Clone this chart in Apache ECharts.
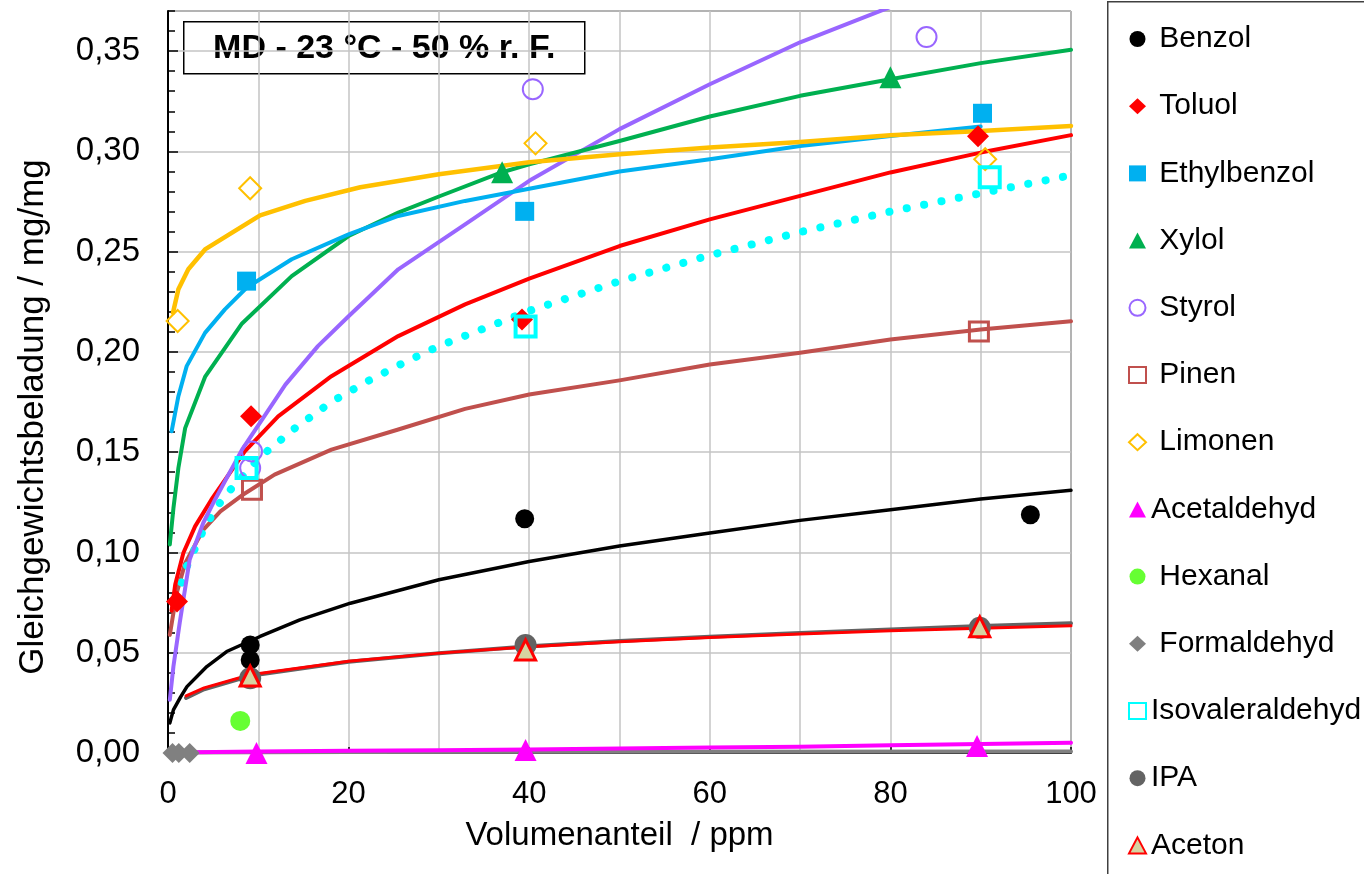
<!DOCTYPE html>
<html>
<head>
<meta charset="utf-8">
<script src="https://cdn.jsdelivr.net/npm/echarts@6/dist/echarts.min.js"></script>
<style>html,body{margin:0;padding:0;background:#fff}#chart{width:1364px;height:874px}</style>
</head>
<body>
<div id="chart"></div>
<script>
// ---------- data (x = Volumenanteil / ppm, y = Gleichgewichtsbeladung / mg/mg) ----------
const names = ['Benzol','Toluol','Ethylbenzol','Xylol','Styrol','Pinen','Limonen','Acetaldehyd','Hexanal','Formaldehyd','Isovaleraldehyd','IPA','Aceton'];
const xTickValues = [0, 20, 40, 60, 80, 100];
const yTickValues = [0, 0.05, 0.10, 0.15, 0.20, 0.25, 0.30, 0.35];

// measured points
const benzolPts = [[9.1,0.0539],[9.1,0.0464],[39.5,0.1168],[95.5,0.1188]];
const toluolPts = [[1.0,0.0755],[9.2,0.1679],[39.2,0.2162],[89.7,0.3076]];
const ethylbenzolPts = [[8.7,0.2353],[39.5,0.2701],[90.2,0.3190]];
const xylolPts = [[37.0,0.2896],[80.0,0.3370]];
const styrolPts = [[9.3,0.1504],[9.1,0.1421],[40.4,0.3310],[84.0,0.3570]];
const pinenPts = [[9.3,0.1313],[89.8,0.2102]];
const limonenPts = [[1.07,0.2154],[9.1,0.2816],[40.7,0.3040],[90.5,0.2961]];
const acetaldehydPts = [[9.8,0.0000],[39.6,0.0015],[89.6,0.0035]];
const hexanalPts = [[8.0,0.0160]];
const formaldehydPts = [[0.5,0.0],[1.2,0.0],[2.4,0.0]];
const isovaleraldehydPts = [[8.7,0.1421],[39.6,0.2127],[91.0,0.2871]];
const ipaPts = [[9.1,0.0373],[39.6,0.0539],[89.9,0.0624]];
const acetonPts = [[9.1,0.0384],[39.6,0.0514],[89.9,0.0629]];

// fitted isotherm curves
const benzolFit = [[0.2,0.015],[0.6,0.0215],[1.4,0.028],[2.1,0.0331],[4.3,0.0431],[6.5,0.0506],[10.2,0.0581],[14.6,0.0664],[20.2,0.0747],[30,0.0864],[40,0.0955],[50,0.1032],[60,0.1097],[70,0.116],[80,0.1213],[90,0.1267],[100,0.131]];
const toluolFit = [[0.4,0.071],[0.8,0.084],[1.7,0.0997],[3,0.113],[4.8,0.1263],[8.5,0.1504],[12.2,0.1679],[18.1,0.1879],[25.5,0.2079],[32.9,0.2237],[40,0.2365],[50,0.2528],[60,0.2661],[70,0.2778],[80,0.2895],[90,0.2994],[100,0.3081]];
const ethylbenzolFit = [[0.4,0.1604],[1.15,0.1779],[2.07,0.1929],[4.1,0.2095],[6.3,0.2212],[8.7,0.232],[13.7,0.2462],[20,0.2586],[25.5,0.2678],[32.9,0.2753],[40,0.2814],[50,0.29],[60,0.2961],[70,0.3027],[80,0.3077],[90,0.3124]];
const xylolFit = [[0.2,0.104],[0.6,0.122],[1.15,0.1421],[1.9,0.162],[4.1,0.1875],[8.2,0.2142],[13.7,0.2378],[20,0.2578],[25.5,0.2695],[30,0.2775],[37,0.2896],[40,0.2935],[50,0.3052],[60,0.3174],[70,0.3277],[80,0.336],[90,0.344],[100,0.3507]];
const styrolFit = [[0.2,0.0265],[0.6,0.0431],[1.3,0.065],[2.4,0.0964],[3.9,0.1147],[5.2,0.1263],[8.2,0.1513],[13,0.1837],[16.6,0.2029],[20,0.2178],[25.5,0.2412],[32.9,0.2636],[40,0.2853],[50,0.3111],[60,0.3335],[70,0.3544],[80,0.372]];
const pinenFit = [[0.2,0.0589],[0.96,0.0797],[1.9,0.0947],[3.9,0.1113],[5.8,0.1205],[8.2,0.1285],[11.8,0.1388],[18.1,0.1513],[25.5,0.1613],[32.9,0.1716],[40,0.1788],[50,0.1858],[60,0.1937],[70,0.1996],[80,0.2062],[90,0.2112],[100,0.2153]];
const limonenFit = [[0.55,0.2195],[1.15,0.2312],[2.25,0.2412],[4.1,0.2511],[7.1,0.2595],[10.2,0.2681],[15.2,0.2753],[21.3,0.2821],[30,0.2886],[40,0.2946],[50,0.2986],[60,0.3019],[70,0.3047],[80,0.3081],[90,0.3102],[100,0.3127]];
const acetaldehydFit = [[2.8,0.0004],[10,0.0008],[20,0.0011],[30,0.0014],[40,0.0018],[50,0.0022],[60,0.0027],[70,0.0031],[80,0.0039],[90,0.0045],[100,0.0051]];
const formaldehydFit = [[0.5,0.0003],[20,0.0005],[50,0.0006],[100,0.0007]];
const isovaleraldehydFit = [[1.5,0.085],[2,0.0922],[4.1,0.113],[6.1,0.1272],[10.2,0.1476],[14.1,0.1621],[18.1,0.1751],[22.1,0.1854],[26.1,0.1946],[30,0.2029],[40,0.2205],[50,0.2353],[60,0.2482],[70,0.2598],[80,0.27],[90,0.2791],[100,0.2881]];
const ipaFit = [[2,0.0275],[4,0.0318],[9.1,0.0385],[20,0.0455],[30,0.0497],[40,0.0532],[50,0.0558],[60,0.058],[70,0.0598],[80,0.0616],[90,0.0633],[100,0.0647]];
const acetonFit = [[2,0.0285],[4,0.0325],[9.1,0.039],[20,0.0458],[30,0.0498],[40,0.053],[50,0.0555],[60,0.0576],[70,0.0593],[80,0.0609],[90,0.0622],[100,0.0634]];

// ---------- styling ----------
const FONT = 'Liberation Sans, Arial, Helvetica, sans-serif';
const spacedNames = ['Benzol','Toluol','Ethylbenzol','Xylol','Styrol','Pinen','Limonen','Hexanal','Formaldehyd'];
const legendIcons = ['circle','diamond','rect','triangle','circle','rect','diamond','triangle','circle','diamond','rect','circle','triangle'];

function fit(name, data, color, width, z, extra) {
  return Object.assign({
    name: name + ' (Anpassung)', type: 'line', data: data, showSymbol: false, symbol: 'none',
    smooth: false, clip: true, silent: true, z: z,
    lineStyle: { color: color, width: width, cap: 'round', join: 'round' }
  }, extra || {});
}
function pts(name, data, symbol, size, itemStyle, z) {
  return { name: name, type: 'scatter', data: data, symbol: symbol, symbolSize: size,
           itemStyle: Object.assign({ opacity: 1 }, itemStyle), z: z || 10, silent: true };
}
const HOLLOW = 'rgba(255,255,255,0)';

const series = [
  fit('Formaldehyd', formaldehydFit, '#808080', 4, 2),
  fit('Acetaldehyd', acetaldehydFit, '#FF00FF', 4, 2),
  fit('IPA', ipaFit, '#636363', 4, 2),
  fit('Aceton', acetonFit, '#FF0000', 3, 2),
  fit('Benzol', benzolFit, '#000000', 3.5, 2),
  fit('Pinen', pinenFit, '#C0504D', 4, 2),
  fit('Isovaleraldehyd', isovaleraldehydFit, '#00FFFF', 8, 2, {
    lineStyle: { color: '#00FFFF', width: 8, type: [0.1, 17.6], cap: 'round', join: 'round' }
  }),
  fit('Toluol', toluolFit, '#FF0000', 4, 2),
  fit('Styrol', styrolFit, '#9966FF', 4, 2),
  fit('Xylol', xylolFit, '#00B050', 4, 2),
  fit('Ethylbenzol', ethylbenzolFit, '#00B0F0', 4, 2),
  fit('Limonen', limonenFit, '#FFC000', 4.5, 2),

  pts('Benzol', benzolPts, 'circle', 19, { color: '#000000' }),
  pts('Toluol', toluolPts, 'diamond', 22, { color: '#FF0000' }),
  pts('Ethylbenzol', ethylbenzolPts, 'rect', 19, { color: '#00B0F0' }),
  pts('Xylol', xylolPts, 'triangle', 22, { color: '#00B050' }),
  pts('Styrol', styrolPts, 'circle', 20, { color: HOLLOW, borderColor: '#9966FF', borderWidth: 2 }),
  pts('Pinen', pinenPts, 'rect', 19, { color: HOLLOW, borderColor: '#C0504D', borderWidth: 3 }),
  pts('Limonen', limonenPts, 'diamond', 22, { color: HOLLOW, borderColor: '#FFC000', borderWidth: 2 }),
  pts('Acetaldehyd', acetaldehydPts, 'triangle', 22, { color: '#FF00FF' }),
  pts('Hexanal', hexanalPts, 'circle', 20, { color: '#66FF33' }),
  pts('Formaldehyd', formaldehydPts, 'diamond', 20, { color: '#808080' }),
  pts('Isovaleraldehyd', isovaleraldehydPts, 'rect', 20, { color: HOLLOW, borderColor: '#00FFFF', borderWidth: 4 }),
  pts('IPA', ipaPts, 'circle', 22, { color: '#636363' }),
  pts('Aceton', acetonPts, 'triangle', 20, { color: '#D6D3A2', borderColor: '#FF0000', borderWidth: 3 }, 11)
];

const chart = echarts.init(document.getElementById('chart'), null, { renderer: 'canvas' });
chart.setOption({
  animation: false,
  backgroundColor: '#ffffff',
  textStyle: { fontFamily: FONT },
  grid: { left: 168, right: 293, top: 11, bottom: 121, show: true, borderColor: '#000', borderWidth: 1,
          containLabel: false, outerBoundsMode: 'none' },
  xAxis: [{
    type: 'value', min: xTickValues[0], max: xTickValues[xTickValues.length - 1], interval: 20,
    name: 'Volumenanteil  / ppm', nameLocation: 'middle', nameGap: 66,
    nameTextStyle: { fontSize: 33, color: '#000', fontFamily: FONT },
    axisLine: { show: true, lineStyle: { color: '#000', width: 2 } },
    axisTick: { show: true, inside: true, length: 6, lineStyle: { color: '#000', width: 1.5 } },
    minorTick: { show: false, splitNumber: 2 },
    axisLabel: { fontSize: 31, color: '#000', margin: 26, fontFamily: FONT },
    splitLine: { show: true, lineStyle: { color: '#C4C4C4', width: 1.5 } },
    minorSplitLine: { show: true, lineStyle: { color: '#C4C4C4', width: 1.5 } }
  }],
  yAxis: [{
    type: 'value', min: yTickValues[0], max: 0.37, interval: 0.05, position: 'left',
    name: 'Gleichgewichtsbeladung / mg/mg', nameLocation: 'middle', nameGap: 117, nameRotate: 90,
    nameTextStyle: { fontSize: 35, color: '#000', fontFamily: FONT, padding: [0, 70, 0, 0] },
    axisLine: { show: true, lineStyle: { color: '#000', width: 2 } },
    axisTick: { show: true, inside: true, length: 10, lineStyle: { color: '#000', width: 1.5 } },
    axisLabel: { fontSize: 33, color: '#000', margin: 28, fontFamily: FONT, showMaxLabel: false,
                 formatter: v => v.toFixed(2).replace('.', ',') },
    splitLine: { show: true, lineStyle: { color: '#C4C4C4', width: 1.5 } }
  }, {
    type: 'value', min: 0, max: 0.37, interval: 0.01, position: 'left',
    axisLine: { show: false },
    axisTick: { show: true, inside: true, length: 7, lineStyle: { color: '#000', width: 1.5 } },
    axisLabel: { show: false },
    splitLine: { show: false }
  }],
  legend: {
    orient: 'vertical', left: 1123, top: 17, itemWidth: 17, itemHeight: 16, itemGap: 33.2,
    selectedMode: false,
    data: names.map((n, i) => ({ name: n, icon: legendIcons[i] })),
    formatter: n => (spacedNames.indexOf(n) >= 0 ? ' ' + n : n),
    textStyle: { fontSize: 30, color: '#000', fontFamily: FONT, lineHeight: 34 }
  },
  graphic: [
    { type: 'rect', left: 1107, top: 1, z: 0, silent: true,
      shape: { width: 320, height: 900 }, style: { fill: '#fff', stroke: '#404040', lineWidth: 1.5 } },
    { type: 'group', left: 183, top: 21, z: 100, silent: true, children: [
      { type: 'rect', shape: { x: 0, y: 0, width: 401, height: 52 }, style: { fill: '#fff', stroke: '#000', lineWidth: 1.5 } },
      { type: 'text', x: 200.5, y: 27, style: { text: 'MD - 23 °C - 50 % r. F.', fill: '#000',
        fontSize: 34, fontWeight: 'bold', fontFamily: FONT, align: 'center', verticalAlign: 'middle' } }
    ]}
  ],
  series: series
});
</script>
</body>
</html>
